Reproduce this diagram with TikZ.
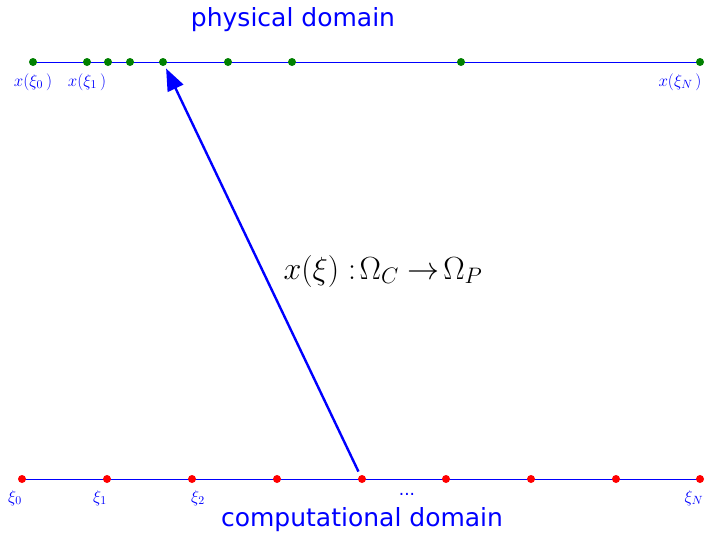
\RequirePackage{fix-cm}
\documentclass[tikz,border=0pt]{standalone}
\usepackage{fontspec}
\setmainfont{DejaVu Sans}
\usepackage{tikz}
\usetikzlibrary{arrows.meta,positioning,backgrounds}
\definecolor{mapblue}{RGB}{0,0,255}
\definecolor{physgreen}{RGB}{0,128,0}
\definecolor{compred}{RGB}{255,0,0}
\tikzset{
  dot/.style={circle,fill=#1,inner sep=0pt,minimum size=8pt},
  axis/.style={draw=mapblue,line width=0.9pt},
  ptlabel/.style={text=mapblue,font=\fontsize{17}{20}\selectfont,inner sep=0pt},
  domlabel/.style={text=mapblue,font=\fontsize{25}{30}\selectfont,inner sep=0pt},
  mapflow/.style={-{Triangle[length=22pt,width=17pt]},line width=2.4pt,draw=mapblue,shorten >=3pt,shorten <=4pt}
}

\begin{document}
\begin{tikzpicture}[x=1pt,y=-1pt]
        \useasboundingbox (0,0) rectangle (708,533);
        % physical grid (clustered)
        \foreach \px [count=\i] in {33,87,108,130,163,228,292,461,700}
          \node[dot=physgreen] (p\i) at (\px,62) {};
        % computational grid (uniform)
        \foreach \cx [count=\i] in {22,107,192,277,362,446,531,616,700}
          \node[dot=compred] (c\i) at (\cx,479) {};
        \begin{scope}[on background layer]
          \draw[axis] (p1.center) -- (p9.center);
          \draw[axis] (c1.center) -- (c9.center);
        \end{scope}
        \node[domlabel] (phys) at (293,20) {physical domain};
        \node[domlabel] (comp) at (362,520) {computational domain};
        \node[ptlabel] (lp1) at (33,82) {$x(\xi_0\,)$};
        \node[ptlabel] (lp2) at (87,82) {$x(\xi_1\,)$};
        \node[ptlabel] (lp9) at (680,82) {$x(\xi_N\,)$};
        \node[ptlabel] (lc1) at (15,498) {$\xi_0$};
        \node[ptlabel] (lc2) at (100,498) {$\xi_1$};
        \node[ptlabel] (lc3) at (198,498) {$\xi_2$};
        \node[ptlabel] (ldots) at (407,494) {...};
        \node[ptlabel] (lc9) at (694,498) {$\xi_N$};
        \draw[mapflow] (c5) -- (p5);
        \node[font=\fontsize{32}{36}\selectfont] (map) at (383,271) {$x(\xi):\!\Omega_C \to\!\Omega_P$};
      \end{tikzpicture}
\end{document}
